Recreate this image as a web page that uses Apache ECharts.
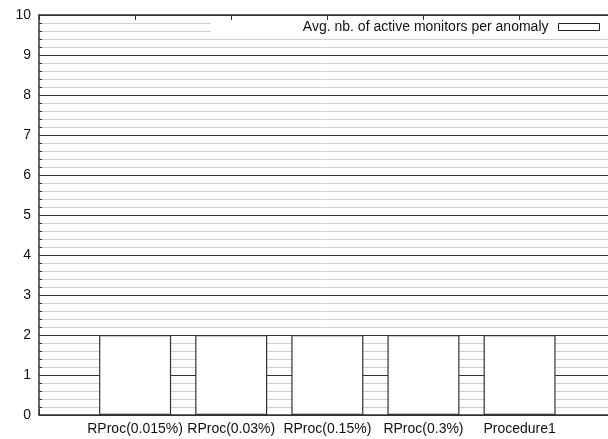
<!DOCTYPE html>
<html><head><meta charset="utf-8">
<script src="https://cdn.jsdelivr.net/npm/echarts@6/dist/echarts.min.js"></script>
<style>html,body{margin:0;padding:0;background:#fff}#c{width:608px;height:439px}</style>
</head><body><div id="c"></div>
<script>
const categories = ['RProc(0.015%)', 'RProc(0.03%)', 'RProc(0.15%)', 'RProc(0.3%)', 'Procedure1'];
const avgMonitors = [2, 2, 2, 2, 2];
const seriesName = 'Avg. nb. of active monitors per anomaly';
const yMin = 0, yMax = 10, yStep = 1;
const xMin = -1, xMax = 4.92;

const FONT = '"Liberation Sans", Arial, Helvetica, sans-serif';
const chart = echarts.init(document.getElementById('c'), null, {renderer: 'canvas'});
chart.setOption({
  animation: false,
  backgroundColor: '#fff',
  grid: {left: 39, right: 0, top: 15, bottom: 24},
  legend: {
    data: [{name: seriesName}],
    right: 0, top: 16,
    padding: [4, 8, 4, 92],
    align: 'right',
    icon: 'rect',
    itemWidth: 41, itemHeight: 7, itemGap: 5,
    backgroundColor: '#fff',
    itemStyle: {color: '#fff', borderColor: '#222', borderWidth: 1},
    textStyle: {fontFamily: FONT, fontSize: 14, color: '#111', padding: [0, 5, 0, 0]}
  },
  xAxis: [{
    type: 'value', position: 'bottom', min: xMin, max: xMax, interval: 1,
    axisLine: {show: true, onZero: false, lineStyle: {color: '#333', width: 1.5}},
    axisTick: {show: true, inside: true, length: 6, lineStyle: {color: '#333'}},
    axisLabel: {
      fontFamily: FONT, fontSize: 14, color: '#111', margin: 7,
      showMaxLabel: false,
      formatter: v => (categories[v] !== undefined ? categories[v] : '')
    },
    splitLine: {show: false}
  }, {
    type: 'value', position: 'top', min: xMin, max: xMax, interval: 1, z: 6,
    axisLine: {show: true, onZero: false, lineStyle: {color: '#333', width: 1.5}},
    axisTick: {show: true, inside: true, length: 5, lineStyle: {color: '#333'}},
    axisLabel: {show: false},
    splitLine: {show: false}
  }],
  yAxis: {
    type: 'value', min: yMin, max: yMax, interval: yStep,
    axisLine: {show: true, onZero: false, lineStyle: {color: '#333', width: 1.5}},
    axisTick: {show: true, inside: true, length: 6, lineStyle: {color: '#333'}},
    minorTick: {show: true, splitNumber: 5, length: 3, lineStyle: {color: '#333'}},
    axisLabel: {fontFamily: FONT, fontSize: 14, color: '#111', margin: 8},
    splitLine: {show: true, lineStyle: {color: '#333', width: 1.2}},
    minorSplitLine: {show: true, lineStyle: {color: '#cfcfcf', width: 1}}
  },
  series: [{
    name: seriesName,
    type: 'bar',
    xAxisIndex: 0,
    barWidth: 72,
    data: categories.map((c, i) => [i, avgMonitors[i]]),
    itemStyle: {color: '#fff', borderColor: '#333', borderWidth: 1.2}
  }]
});
</script>
</body></html>
